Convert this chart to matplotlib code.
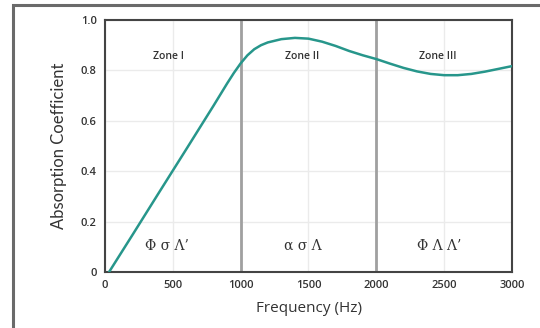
# absorption coefficient vs frequency, three zones
import matplotlib.pyplot as plt
from matplotlib.patches import Rectangle

freq = [30, 200, 400, 600, 800, 900, 950, 1000, 1050, 1100, 1150, 1200, 1300,
        1400, 1500, 1600, 1700, 1800, 1900, 2000, 2100, 2200, 2300, 2400,
        2500, 2600, 2700, 2800, 2900, 3000]
absorb = [0.0, 0.145, 0.317, 0.488, 0.66, 0.748, 0.79, 0.828, 0.86, 0.884,
          0.9, 0.911, 0.924, 0.929, 0.926, 0.914, 0.897, 0.877, 0.86, 0.845,
          0.827, 0.81, 0.796, 0.786, 0.781, 0.781, 0.786, 0.795, 0.806, 0.817]

zone_names = ['Zone I', 'Zone II', 'Zone III']
zone_x = [470, 1450, 2450]
params = ['\u03a6 \u03c3 \u039b\u2019', '\u03b1 \u03c3 \u039b', '\u03a6 \u039b \u039b\u2019']
params_x = [460, 1460, 2460]
borders = [1000, 2000]

xticks = [0, 500, 1000, 1500, 2000, 2500, 3000]
yticks = [0, 0.2, 0.4, 0.6, 0.8, 1.0]
ylabels = ['0', '0.2', '0.4', '0.6', '0.8', '1.0']

fig = plt.figure(figsize=(5.4, 3.28), dpi=100)
fig.patches.append(Rectangle((13/540, -0.1), 1.2, (323/328) + 0.1,
                             transform=fig.transFigure, fill=False,
                             edgecolor='#6a6a6a', linewidth=2.2, zorder=0))

ax = fig.add_axes([105/540, 56/328, 407/540, 252/328])
ax.set_xlim(0, 3000)
ax.set_ylim(0, 1.0)
ax.set_xticks(xticks)
ax.set_yticks(yticks)
ax.set_yticklabels(ylabels)
ax.grid(True, color='#ebebeb', linewidth=1)
ax.tick_params(length=0, labelsize=8, colors='#333333', pad=6)
for lab in ax.get_xticklabels() + ax.get_yticklabels():
    lab.set_fontfamily('Open Sans')
    lab.set_fontweight('semibold')
for s in ax.spines.values():
    s.set_color('#444444')
    s.set_linewidth(1.5)

for b in borders:
    ax.axvline(b, color='#a0a0a0', linewidth=2, zorder=2)

ax.plot(freq, absorb, color='#27968b', linewidth=1.8, zorder=3)

for name, x in zip(zone_names, zone_x):
    ax.text(x, 0.855, name, ha='center', va='center', fontsize=7.5,
            color='#333333', family='Open Sans', weight='semibold')
for p, x in zip(params, params_x):
    ax.text(x, 0.105, p, ha='center', va='center', fontsize=10,
            color='#333333', family='DejaVu Serif')

ax.set_xlabel('Frequency (Hz)', fontsize=11, color='#333333',
              family='Open Sans', labelpad=7)
ax.set_ylabel('Absorption Coefficient', fontsize=12, color='#333333',
              family='Lato', labelpad=10)

fig.savefig('out.png', dpi=100)
